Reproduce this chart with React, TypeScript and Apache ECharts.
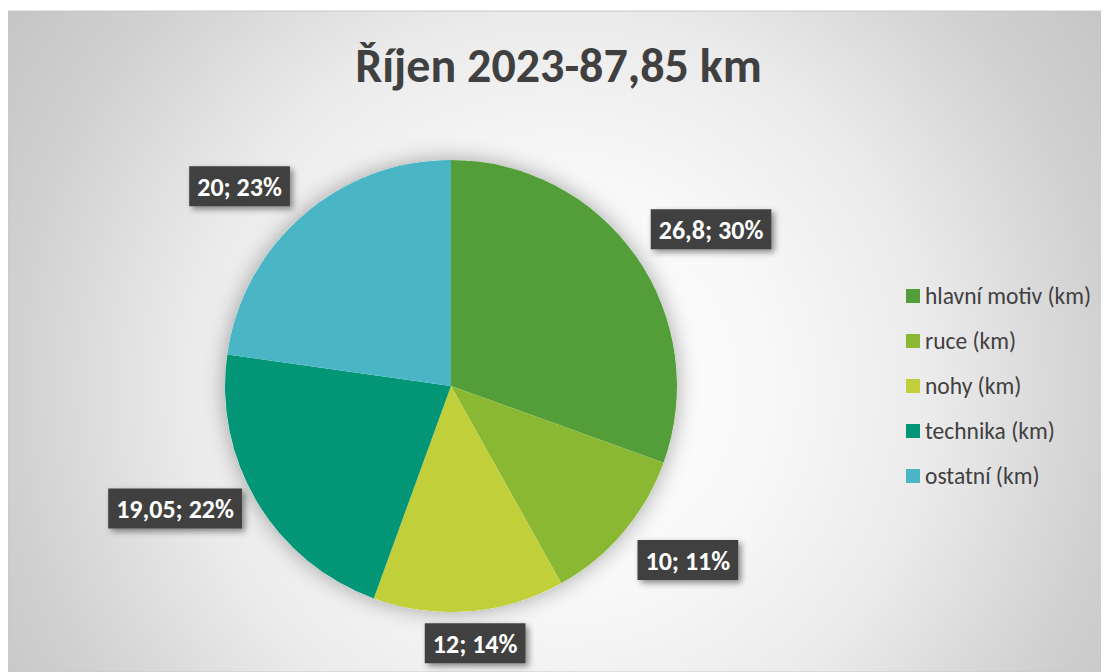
import React, { useEffect, useRef } from 'react';
import * as echarts from 'echarts';

const titleText = 'Říjen 2023-87,85 km';
const categories = ['hlavní motiv (km)', 'ruce (km)', 'nohy (km)', 'technika (km)', 'ostatní (km)'];
const values = [26.8, 10, 12, 19.05, 20];
const colors = ['#549E39', '#8AB833', '#C0CF3A', '#029676', '#4AB5C4'];

const FONT = 'Carlito, "Liberation Sans Narrow", "Open Sans", sans-serif';

export default function App() {
  const ref = useRef<HTMLDivElement>(null);
  useEffect(() => {
    if (!ref.current) return;
    const chart = echarts.init(ref.current, undefined, { renderer: 'svg' });
    const W = 1101;
    const H = 664;
    const bg = new echarts.graphic.RadialGradient(552, 380, 700, [
      { offset: 0, color: '#ffffff' },
      { offset: 0.3, color: '#f8f8f8' },
      { offset: 0.53, color: '#ebebeb' },
      { offset: 0.79, color: '#d0d0d0' },
      { offset: 1, color: '#c2c2c2' },
    ], true);
    const option: any = {
      animation: false,
      textStyle: { fontFamily: FONT },
      graphic: [
        {
          type: 'rect',
          silent: true,
          z: -10,
          shape: { x: 0, y: 3, width: W, height: H - 3 },
          style: { fill: bg, stroke: '#c8c8c8', lineWidth: 1 },
        },
      ],
      title: {
        text: titleText,
        left: 'center',
        top: 28,
        padding: [5, 5, 5, 19],
        textStyle: { fontFamily: FONT, fontSize: 48, fontWeight: 'bold', color: '#404040' },
      },
      legend: {
        orient: 'vertical',
        left: 893,
        top: 271,
        itemWidth: 14,
        itemHeight: 14,
        itemGap: 21,
        icon: 'rect',
        data: categories,
        textStyle: { fontFamily: FONT, fontSize: 23.5, lineHeight: 24, color: '#404040' },
      },
      series: [
        {
          type: 'pie',
          silent: true,
          z: 1,
          center: [443, 378],
          radius: 226,
          label: { show: false },
          labelLine: { show: false },
          itemStyle: { color: '#ffffff', shadowBlur: 22, shadowColor: 'rgba(0,0,0,0.35)' },
          data: [{ name: '', value: 1 }],
        },
        {
          type: 'pie',
          z: 2,
          center: [443, 378],
          radius: 226,
          startAngle: 90,
          clockwise: true,
          percentPrecision: 0,
          avoidLabelOverlap: false,
          itemStyle: { borderWidth: 0 },
          labelLine: { show: false, length: 12, length2: 0 },
          label: {
            show: true,
            position: 'outside',
            formatter: (p: any) => `${String(p.value).replace('.', ',')}; ${p.percent}%`,
            color: '#ffffff',
            fontFamily: FONT,
            fontSize: 26,
            lineHeight: 26,
            fontWeight: 'bold',
            backgroundColor: '#404040',
            padding: [8, 8, 6, 8],
            shadowBlur: 6,
            shadowOffsetX: 3,
            shadowOffsetY: 3,
            shadowColor: 'rgba(0,0,0,0.45)',
          },
          labelLayout: (params: any) => {
            const r = params.rect;
            const l = params.labelRect;
            const pts = params.labelLinePoints;
            const out: any = {};
            const ly = l.y + l.height / 2;
            const ry = r.y + r.height / 2;
            out.verticalAlign = ly < ry ? 'bottom' : 'top';
            if (pts && pts.length >= 2) {
              const dx = pts[1][0] - pts[0][0];
              const dy = pts[1][1] - pts[0][1];
              const len = Math.sqrt(dx * dx + dy * dy) || 1;
              if (Math.abs(dx / len) < 0.25) out.align = 'center';
              if (Math.abs(dy / len) < 0.55) out.verticalAlign = 'middle';
            }
            return out;
          },
          data: categories.map((name, i) => ({ name, value: values[i], itemStyle: { color: colors[i] } })),
        },
      ],
    };
    chart.setOption(option);
    return () => chart.dispose();
  }, []);
  return <div ref={ref} style={{ width: 1101, height: 664 }} />;
}
